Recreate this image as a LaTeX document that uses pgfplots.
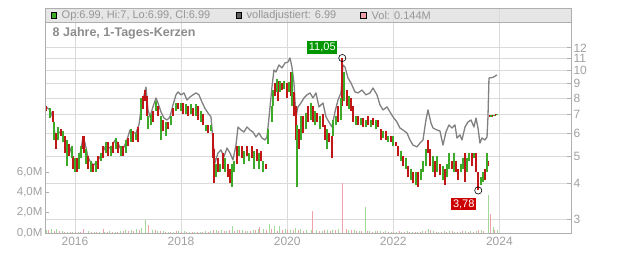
\documentclass[border=0pt]{standalone}
\usepackage{pgfplots}
\pgfplotsset{compat=1.18}
\usepackage{pgfplotstable}
\usepackage{fontspec}
\setmainfont{Liberation Sans}
\definecolor{cgreen}{RGB}{60,170,40}
\definecolor{cred}{RGB}{192,22,22}
\definecolor{cgrayline}{RGB}{128,128,128}
\definecolor{vgreen}{RGB}{160,218,150}
\definecolor{vred}{RGB}{240,160,168}
\definecolor{gridc}{RGB}{218,218,218}
\definecolor{framec}{RGB}{175,175,175}
\definecolor{tickc}{RGB}{160,160,160}
\definecolor{hdrc}{RGB}{230,230,230}
\definecolor{hdrtext}{RGB}{150,150,150}
\definecolor{titlec}{RGB}{140,140,140}
\definecolor{lblgreen}{RGB}{0,150,0}
\definecolor{lblred}{RGB}{204,0,0}
\definecolor{darksq}{RGB}{96,96,96}

\pgfplotstableread{
x lo hi
2015.453 7.2 7.5
2015.580 6.6 7.2
2015.642 5.3 6.0
2015.730 5.9 6.2
2015.812 5.1 5.9
2015.887 5.0 5.5
2015.968 4.5 5.0
2016.038 4.4 4.9
2016.145 5.3 5.9
2016.175 5.1 5.9
2016.251 4.5 5.0
2016.345 4.4 4.7
2016.439 4.5 5.0
2016.533 4.9 5.4
2016.628 5.0 5.6
2016.722 5.1 5.6
2016.816 5.1 5.6
2016.910 5.0 5.4
2017.005 5.4 5.8
2017.099 5.6 6.1
2017.193 5.6 6.3
2017.276 7.3 8.1
2017.320 7.8 8.5
2017.352 6.9 8.1
2017.476 6.6 7.2
2017.570 6.9 7.5
2017.665 6.1 6.7
2017.759 6.2 6.6
2017.853 6.9 7.4
2017.947 7.3 7.7
2018.042 7.0 7.7
2018.136 6.9 7.5
2018.230 6.9 7.4
2018.324 6.7 7.5
2018.418 6.4 7.0
2018.513 6.0 6.4
2018.596 4.9 6.0
2018.626 4.0 5.3
2018.701 4.4 4.9
2018.784 4.5 5.1
2018.878 4.2 4.7
2018.922 4.0 4.5
2019.048 4.7 5.4
2019.142 4.9 5.4
2019.237 5.0 5.4
2019.331 4.9 5.4
2019.425 4.8 5.3
2019.506 4.8 5.2
2019.595 4.5 4.7
2019.770 8.1 9.0
2019.832 7.8 9.2
2019.896 8.5 9.0
2019.990 8.0 9.0
2020.072 8.1 9.9
2020.134 6.9 8.4
2020.160 5.7 7.5
2020.222 5.3 6.2
2020.304 6.0 6.9
2020.398 6.6 7.5
2020.492 6.6 7.5
2020.567 6.6 7.1
2020.669 6.3 7.0
2020.713 5.7 6.4
2020.794 5.6 6.0
2020.839 4.9 5.9
2020.963 6.6 7.5
2021.039 7.5 11.05
2021.122 7.5 8.5
2021.208 7.2 8.0
2021.246 6.6 7.5
2021.340 6.4 6.9
2021.435 6.3 6.8
2021.529 6.4 6.9
2021.623 6.4 6.8
2021.717 6.3 6.7
2021.763 5.7 6.2
2021.862 5.7 6.1
2021.951 5.6 5.9
2022.051 5.4 5.6
2022.094 5.0 5.4
2022.189 4.6 5.0
2022.283 4.2 4.6
2022.377 4.0 4.4
2022.471 3.9 4.4
2022.654 5.1 5.7
2022.692 4.6 5.3
2022.786 4.2 4.8
2022.880 4.3 4.7
2022.975 3.95 4.5
2023.101 4.5 4.8
2023.182 4.4 4.8
2023.225 4.1 4.5
2023.352 4.05 5.1
2023.478 4.6 5.1
2023.559 4.4 5.1
2023.602 3.78 4.4
2023.728 4.1 4.5
2023.790 4.6 4.8
2023.813 6.85 6.95
2023.870 6.88 6.97
2023.927 6.93 7.0
}\candR

\pgfplotstableread{
x lo hi
2015.529 6.8 7.4
2015.604 5.7 6.6
2015.680 5.7 6.3
2015.774 5.6 6.1
2015.844 4.6 5.7
2015.938 4.9 5.4
2016.000 4.4 4.9
2016.075 4.5 5.1
2016.107 4.9 5.4
2016.207 4.7 5.3
2016.296 4.4 4.8
2016.396 4.4 4.8
2016.484 4.8 5.1
2016.584 5.1 5.6
2016.673 5.0 5.4
2016.773 5.3 5.8
2016.861 5.0 5.4
2016.961 5.1 5.7
2017.050 5.6 6.2
2017.150 5.7 6.0
2017.238 6.7 8.0
2017.382 6.2 6.9
2017.427 6.4 7.0
2017.527 7.2 7.8
2017.615 5.7 6.9
2017.715 5.9 6.6
2017.804 6.4 6.9
2017.904 7.2 7.7
2017.998 7.2 7.7
2018.087 7.0 7.6
2018.187 7.0 7.6
2018.275 6.9 7.6
2018.375 6.6 7.2
2018.464 6.1 6.4
2018.564 6.1 6.4
2018.664 4.2 4.7
2018.739 4.4 4.7
2018.828 4.4 4.9
2018.965 3.9 4.7
2019.003 4.4 4.8
2019.091 5.0 5.4
2019.191 4.7 5.2
2019.280 4.8 5.1
2019.380 4.5 5.2
2019.468 4.5 5.1
2019.549 4.4 4.8
2019.644 5.5 6.2
2019.708 6.6 7.5
2019.738 7.5 8.5
2019.802 8.4 9.3
2019.864 8.4 9.2
2019.945 8.6 9.2
2020.034 8.4 9.1
2020.096 7.5 9.9
2020.185 3.9 6.4
2020.260 5.7 6.9
2020.349 6.2 7.1
2020.449 6.7 7.7
2020.524 6.4 7.2
2020.618 6.2 6.9
2020.756 5.3 6.2
2020.869 5.9 6.7
2020.920 6.4 6.9
2021.008 6.7 8.0
2021.076 7.8 9.9
2021.165 7.3 8.1
2021.297 6.4 6.9
2021.386 6.4 6.8
2021.485 6.3 6.7
2021.574 6.3 6.7
2021.674 6.2 6.7
2021.812 5.8 6.1
2021.906 5.6 5.9
2022.000 5.4 5.9
2022.140 4.8 5.2
2022.239 4.5 4.9
2022.328 4.1 4.5
2022.428 3.95 4.4
2022.516 4.1 4.5
2022.565 4.4 4.8
2022.616 4.6 5.3
2022.743 4.4 5.0
2022.829 4.4 5.0
2022.931 4.1 4.6
2023.018 4.2 4.7
2023.056 4.5 5.1
2023.144 4.4 5.1
2023.271 4.4 4.7
2023.308 4.5 4.9
2023.395 4.4 4.9
2023.433 4.8 5.1
2023.521 4.9 5.1
2023.647 3.95 4.2
2023.685 4.05 4.4
2023.760 4.4 5.1
2023.842 6.86 6.96
2023.898 6.90 6.99
2023.955 6.97 7.02
}\candG

\pgfplotstableread{
x y
2015.453 7.44
2015.529 7.26
2015.585 6.80
2015.623 5.93
2015.661 5.69
2015.698 6.07
2015.755 6.02
2015.812 5.69
2015.849 5.25
2015.906 5.33
2015.962 4.92
2016.019 4.76
2016.075 4.92
2016.113 5.25
2016.151 5.83
2016.189 5.55
2016.245 4.96
2016.302 4.72
2016.358 4.65
2016.415 4.76
2016.471 4.96
2016.528 5.16
2016.584 5.46
2016.641 5.33
2016.697 5.38
2016.754 5.69
2016.811 5.55
2016.867 5.25
2016.924 5.38
2016.980 5.69
2017.037 6.17
2017.093 6.02
2017.150 6.02
2017.206 6.43
2017.244 7.26
2017.282 7.87
2017.338 8.74
2017.376 7.26
2017.414 6.86
2017.470 7.44
2017.527 8.00
2017.565 7.68
2017.621 7.14
2017.678 6.80
2017.734 6.69
2017.791 6.86
2017.847 7.56
2017.904 8.20
2017.942 8.40
2017.998 8.20
2018.055 8.33
2018.111 7.87
2018.168 8.06
2018.224 8.20
2018.281 8.33
2018.337 8.20
2018.394 7.74
2018.451 7.35
2018.507 7.08
2018.564 6.86
2018.601 5.69
2018.639 4.72
2018.696 5.12
2018.752 5.25
2018.809 4.96
2018.865 5.33
2018.922 5.12
2018.978 4.84
2019.035 5.46
2019.073 6.32
2019.129 6.17
2019.186 6.07
2019.242 6.32
2019.299 6.17
2019.355 6.07
2019.412 5.83
2019.468 6.02
2019.525 5.78
2019.582 5.69
2019.619 5.83
2019.657 6.80
2019.713 8.74
2019.751 10.04
2019.789 9.87
2019.845 10.45
2019.902 10.20
2019.959 10.62
2020.015 10.70
2020.053 11.06
2020.090 10.28
2020.128 9.03
2020.166 6.86
2020.204 7.44
2020.260 7.68
2020.317 8.00
2020.373 8.20
2020.430 8.33
2020.486 8.00
2020.543 8.33
2020.599 7.44
2020.675 7.68
2020.731 6.86
2020.788 6.58
2020.844 6.32
2020.901 7.14
2020.958 7.87
2021.014 8.33
2021.052 10.45
2021.090 10.28
2021.146 9.40
2021.203 9.03
2021.278 8.40
2021.335 8.33
2021.410 8.53
2021.485 8.20
2021.561 8.33
2021.617 8.67
2021.693 8.20
2021.749 7.56
2021.806 7.26
2021.881 7.44
2021.938 7.14
2021.994 6.86
2022.070 6.58
2022.126 6.27
2022.183 6.17
2022.258 6.02
2022.315 5.69
2022.371 5.46
2022.447 5.38
2022.503 5.55
2022.560 5.69
2022.616 6.69
2022.654 7.26
2022.711 6.53
2022.748 6.27
2022.824 6.17
2022.880 6.12
2022.937 5.46
2022.993 6.07
2023.050 6.43
2023.106 6.27
2023.163 6.43
2023.201 5.78
2023.257 5.93
2023.295 5.69
2023.352 6.32
2023.408 6.58
2023.465 6.69
2023.521 6.32
2023.559 6.80
2023.597 6.27
2023.634 5.55
2023.672 5.78
2023.729 5.69
2023.767 5.83
2023.785 6.86
2023.804 9.40
2023.880 9.45
2023.955 9.64
}\adj

\pgfplotstableread{
x v
2015.46 0.25
2015.56 0.35
2015.66 0.4
2015.76 0.2
2015.86 0.1
2015.96 0.08
2016.06 0.12
2016.16 0.1
2016.26 0.15
2016.36 0.06
2016.46 0.08
2016.56 0.1
2016.66 0.15
2016.76 0.08
2016.86 0.2
2016.96 0.25
2017.06 0.3
2017.16 0.35
2017.26 0.5
2017.32 1.3
2017.46 0.3
2017.56 0.2
2017.66 0.15
2017.76 0.1
2017.86 0.12
2017.96 0.2
2018.06 0.15
2018.16 0.1
2018.26 0.12
2018.36 0.1
2018.46 0.15
2018.56 0.2
2018.66 0.25
2018.76 0.3
2018.86 0.2
2018.96 0.7
2019.06 0.3
2019.16 0.25
2019.26 0.2
2019.36 0.3
2019.46 0.35
2019.56 0.4
2019.66 0.9
2019.76 0.7
2019.86 0.7
2019.96 0.4
2020.06 0.3
2020.16 0.45
2020.26 0.35
2020.36 0.3
2020.46 0.25
2020.56 0.3
2020.66 0.2
2020.76 0.25
2020.86 0.3
2020.96 0.35
2021.04 1.9
2021.16 0.3
2021.26 0.25
2021.36 0.2
2021.48 2.6
2021.56 0.2
2021.66 0.15
2021.76 0.2
2021.86 0.15
2021.96 0.1
2022.06 0.12
2022.16 0.1
2022.26 0.15
2022.36 0.1
2022.46 0.12
2022.56 0.15
2022.66 0.4
2022.76 0.15
2022.86 0.12
2022.96 0.2
2023.06 0.15
2023.16 0.1
2023.26 0.12
2023.36 0.15
2023.46 0.2
2023.56 0.15
2023.66 0.3
2023.79 3.7
2023.88 0.6
2023.96 0.3
}\volG

\pgfplotstableread{
x v
2015.51 0.3
2015.61 0.2
2015.71 0.15
2015.81 0.1
2015.91 0.08
2016.01 0.1
2016.11 0.12
2016.17 0.4
2016.31 0.08
2016.41 0.05
2016.53 0.4
2016.61 0.1
2016.71 0.05
2016.81 0.1
2016.91 0.15
2017.01 0.2
2017.11 0.2
2017.21 0.3
2017.38 0.8
2017.51 0.25
2017.61 0.15
2017.71 0.1
2017.81 0.08
2017.91 0.15
2018.01 0.1
2018.11 0.1
2018.21 0.08
2018.31 0.12
2018.41 0.1
2018.51 0.1
2018.61 0.3
2018.71 0.2
2018.81 0.15
2018.91 0.25
2019.01 0.2
2019.11 0.3
2019.21 0.15
2019.31 0.2
2019.41 0.25
2019.48 0.55
2019.61 0.3
2019.71 0.35
2019.81 0.2
2019.91 0.25
2020.01 0.3
2020.11 0.25
2020.21 0.3
2020.31 0.2
2020.47 2.2
2020.61 0.2
2020.71 0.25
2020.81 0.2
2020.91 0.3
2021.04 4.9
2021.11 0.4
2021.21 0.3
2021.31 0.2
2021.41 0.15
2021.51 0.2
2021.61 0.1
2021.71 0.15
2021.81 0.1
2021.91 0.12
2022.01 0.1
2022.11 0.15
2022.21 0.1
2022.31 0.12
2022.41 0.1
2022.51 0.08
2022.61 0.2
2022.71 0.25
2022.81 0.1
2022.91 0.12
2023.01 0.1
2023.11 0.15
2023.21 0.1
2023.31 0.15
2023.41 0.12
2023.51 0.1
2023.61 0.3
2023.71 0.2
2023.83 1.9
2023.91 0.3
}\volR

\begin{document}
\begin{tikzpicture}[x=1pt,y=1pt]
\fill[hdrc] (45,230.5) rectangle (571,245);
\begin{axis}[
  at={(45pt,20pt)}, anchor=south west,
  scale only axis, width=526pt, height=225pt,
  xmin=2015.435, xmax=2025.35,
  ymode=log, ymin=2.678, ymax=16.58,
  axis line style={framec, line width=0.8pt},
  xtick={2016,2018,2020,2022,2024},
  xticklabels={2016,2018,2020,2022,2024},
  x tick style={draw=none},
  ytick={3,4,5,6,7,8,9,10,11,12},
  yticklabels={3,4,5,6,7,8,9,10,11,12},
  minor ytick={},
  ytick pos=right, yticklabel pos=right,
  y tick style={framec, line width=0.8pt},
  tick align=inside, major tick length=4pt,
  xmajorgrids, ymajorgrids,
  grid style={gridc, line width=0.8pt},
  ticklabel style={text=tickc, font=\fontsize{12}{14}\selectfont},
  yticklabel style={xshift=-1pt},
  xticklabel style={yshift=-1pt},
  clip=true,
]
\addplot[cgrayline, line width=1.3pt, line join=round] table[x=x,y=y] \adj;
\addplot[draw=none, mark=none, forget plot,
  error bars/.cd, y dir=plus, y explicit, error mark=none,
  error bar style={draw=cred, line width=1.9pt}]
  table[x=x, y=lo, y error plus expr=\thisrow{hi}-\thisrow{lo}] \candR;
\addplot[draw=none, mark=none, forget plot,
  error bars/.cd, y dir=plus, y explicit, error mark=none,
  error bar style={draw=cgreen, line width=1.9pt}]
  table[x=x, y=lo, y error plus expr=\thisrow{hi}-\thisrow{lo}] \candG;
\addplot[only marks, mark=o, mark size=3.6pt, mark options={draw=black, line width=0.6pt}]
  coordinates {(2021.039,11.05) (2023.602,3.78)};
\node[fill=lblgreen, text=white, inner sep=1.6pt, font=\fontsize{11}{12}\selectfont]
  at ([xshift=-20pt,yshift=10.5pt]axis cs:2021.039,11.05) {11,05};
\node[fill=lblred, text=white, inner sep=1.6pt, font=\fontsize{11}{12}\selectfont]
  at ([xshift=-14.5pt,yshift=-13.5pt]axis cs:2023.602,3.78) {3,78};
\end{axis}
\begin{axis}[
  at={(45pt,20pt)}, anchor=south west,
  scale only axis, width=526pt, height=225pt,
  xmin=2015.435, xmax=2025.35,
  ymin=0, ymax=22.17,
  hide x axis,
  axis y line*=left,
  axis line style={framec, line width=0.8pt},
  ytick={0,2,4,6},
  yticklabels={{0,0M},{2,0M},{4,0M},{6,0M}},
  y tick style={framec, line width=0.8pt},
  tick align=inside, major tick length=4pt,
  ticklabel style={text=tickc, font=\fontsize{11.5}{13}\selectfont},
  yticklabel style={xshift=1pt},
]
\addplot[ycomb, vgreen, line width=1pt, mark=none] table[x=x,y=v] \volG;
\addplot[ycomb, vred, line width=1pt, mark=none] table[x=x,y=v] \volR;
\end{axis}
\node[anchor=west, inner sep=0, font=\bfseries\fontsize{12.5}{14}\selectfont, text=titlec] at (52.5,220) {8 Jahre, 1-Tages-Kerzen};
\filldraw[fill=cgreen, draw=black, line width=0.5pt] (51,235.2) rectangle (56,240.5);
\node[anchor=west, inner sep=0, font=\fontsize{11}{12}\selectfont, text=hdrtext] at (61.5,237.8) {Op:6.99, Hi:7, Lo:6.99, Cl:6.99};
\filldraw[fill=darksq, draw=black, line width=0.5pt] (236,235.2) rectangle (241.3,240.5);
\node[anchor=west, inner sep=0, font=\fontsize{11}{12}\selectfont, text=hdrtext] at (246.5,237.8) {volladjustiert: 6.99};
\filldraw[fill=vred, draw=black, line width=0.5pt] (360.7,235.2) rectangle (366,240.5);
\node[anchor=west, inner sep=0, font=\fontsize{11}{12}\selectfont, text=hdrtext] at (371.5,237.8) {Vol: 0.144M};
\draw[framec, line width=0.8pt] (45,230.5) -- (571,230.5);
\pgfresetboundingbox
\path (0,0) rectangle (632,253);
\end{tikzpicture}
\end{document}
